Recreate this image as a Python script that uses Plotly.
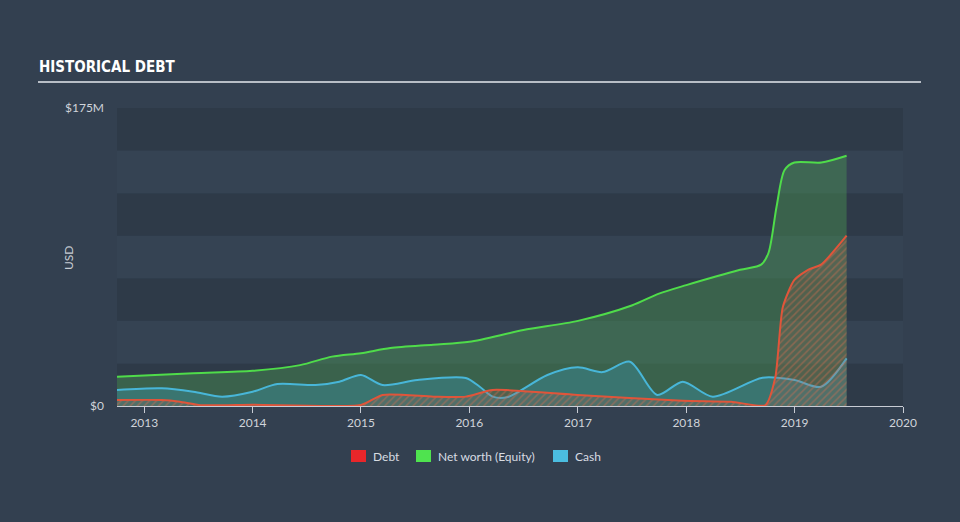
import plotly.graph_objects as go

# ---- data (USD millions) ----
cash_dates = ["2012-10-01", "2013-03-01", "2013-06-15", "2013-09-20", "2014-01-01", "2014-03-25",
              "2014-08-01", "2014-10-20", "2015-01-01", "2015-03-15", "2015-07-10", "2015-12-20",
              "2016-02-05", "2016-03-20", "2016-05-10", "2016-09-20", "2016-12-31", "2017-03-25",
              "2017-06-25", "2017-09-25", "2017-12-20", "2018-03-31", "2018-09-15", "2018-12-31",
              "2019-03-31", "2019-06-25"]
cash_vals = [9.4, 10.4, 8.4, 5.5, 8.4, 12.9, 12.3, 14.3, 18.2, 12.3, 15.3, 16.4, 11.3, 5.5, 5.3,
             18.2, 22.7, 19.9, 26.0, 6.5, 14.3, 5.5, 16.6, 15.3, 11.3, 28.0]

debt_dates = ["2012-10-01", "2013-03-01", "2013-05-01", "2013-07-10", "2014-01-01", "2015-01-01",
              "2015-03-15", "2015-09-01", "2015-12-20", "2016-03-20", "2016-12-31", "2017-12-20",
              "2018-06-01", "2018-09-25", "2018-10-28", "2018-11-22", "2018-12-31", "2019-02-15",
              "2019-03-31", "2019-06-25"]
debt_vals = [3.5, 3.5, 2.5, 0.5, 0.7, 0.6, 6.5, 5.5, 5.5, 9.4, 6.5, 3.1, 2.5, 0.6, 17.0, 58.0,
             74.0, 80.0, 83.0, 100.0]

equity_dates = ["2012-10-01", "2013-06-15", "2014-01-01", "2014-06-10", "2014-09-25", "2015-01-01",
                "2015-04-10", "2015-09-01", "2016-01-01", "2016-07-01", "2017-01-01", "2017-07-01",
                "2017-10-01", "2018-01-01", "2018-07-01", "2018-09-10", "2018-10-05", "2018-11-01",
                "2018-11-28", "2018-12-31", "2019-04-01", "2019-06-25"]
equity_vals = [17.2, 19.3, 20.7, 24.0, 29.0, 31.0, 34.0, 36.0, 37.7, 44.6, 50.0, 59.0, 66.0, 71.0,
               80.0, 83.0, 90.0, 117.0, 138.6, 143.0, 143.0, 147.0]

x_ticks = ["2013-01-01", "2014-01-01", "2015-01-01", "2016-01-01", "2017-01-01", "2018-01-01",
           "2019-01-01", "2020-01-01"]
x_tick_labels = ["2013", "2014", "2015", "2016", "2017", "2018", "2019", "2020"]
y_ticks = [0, 175]
y_tick_labels = ["$0", "$175M"]
band_edges = [0, 25, 50, 75, 100, 125, 150, 175]
legend_names = ["Debt", "Net worth (Equity)", "Cash"]
legend_colors = ["#e8262a", "#4fe34f", "#4bbde0"]

BG = "#334050"
FONT = "Lato, 'Open Sans', sans-serif"

# layout geometry (pixels)
L, R, T, B, W, H = 117, 57, 108, 116, 960, 522
PW, PH = W - L - R, H - T - B


def px(xp):
    return (xp - L) / PW


def py(yp):
    return (H - B - yp) / PH


fig = go.Figure()

fig.add_trace(go.Scatter(x=equity_dates, y=equity_vals, mode="lines",
                         line=dict(color="#4fdc4a", width=2, shape="spline", smoothing=0.8),
                         fill="tozeroy", fillcolor="rgba(80,170,83,0.36)", showlegend=False, hoverinfo="skip"))
fig.add_trace(go.Scatter(x=cash_dates, y=cash_vals, mode="lines",
                         line=dict(color="#48b6d8", width=2, shape="spline", smoothing=0.8),
                         fill="tozeroy", fillcolor="rgba(60,160,190,0.32)", showlegend=False, hoverinfo="skip"))
fig.add_trace(go.Scatter(x=debt_dates, y=debt_vals, mode="lines",
                         line=dict(color="#e0553a", width=2, shape="spline", smoothing=0.6),
                         fill="tozeroy", fillcolor="rgba(0,0,0,0)",
                         fillpattern=dict(shape="/", fgcolor="rgba(225,110,80,0.75)",
                                          bgcolor="rgba(150,90,80,0.25)", size=5, solidity=0.3),
                         showlegend=False, hoverinfo="skip"))

shapes = []
for i in range(len(band_edges) - 1):
    shapes.append(dict(type="rect", xref="paper", yref="y", x0=0, x1=1,
                       y0=band_edges[i], y1=band_edges[i + 1], layer="below", line=dict(width=0),
                       fillcolor="#2e3a48" if i % 2 == 0 else "#354353"))
# title underline
shapes.append(dict(type="line", xref="paper", yref="paper", x0=px(38), x1=px(921), y0=py(82), y1=py(82),
                   line=dict(color="#b8bec6", width=2)))

annotations = [
    dict(text="<b>HISTORICAL DEBT</b>", xref="paper", yref="paper", x=px(37), y=py(67),
         xanchor="left", yanchor="middle", showarrow=False,
         font=dict(family="'DejaVu Sans Condensed', sans-serif", size=15, color="#ffffff")),
    dict(text="USD", xref="paper", yref="paper", x=px(68), y=py(258), textangle=-90,
         xanchor="center", yanchor="middle", showarrow=False,
         font=dict(color="#c8ccd4", size=12, family=FONT)),
]

# custom legend
sw_x = [351, 416, 553]
for name, col, x0 in zip(legend_names, legend_colors, sw_x):
    shapes.append(dict(type="rect", xref="paper", yref="paper", x0=px(x0), x1=px(x0 + 15),
                       y0=py(462), y1=py(450), line=dict(width=0), fillcolor=col))
    annotations.append(dict(text=name, xref="paper", yref="paper", x=px(x0 + 20), y=py(456),
                            xanchor="left", yanchor="middle", showarrow=False,
                            font=dict(color="#d8dce2", size=12, family=FONT)))

fig.update_layout(
    width=W, height=H,
    paper_bgcolor=BG, plot_bgcolor=BG,
    margin=dict(l=L, r=R, t=T, b=B),
    shapes=shapes,
    annotations=annotations,
    showlegend=False,
    xaxis=dict(range=["2012-10-01", "2020-01-01"], tickvals=x_ticks, ticktext=x_tick_labels,
               showgrid=False, zeroline=False, showline=True, linecolor="#c8ccd4", linewidth=1,
               ticks="outside", ticklen=6, tickcolor="#c8ccd4",
               tickfont=dict(color="#d0d4da", size=12, family=FONT)),
    yaxis=dict(range=[0, 175], tickvals=y_ticks, ticktext=y_tick_labels, showgrid=False,
               zeroline=False, showline=False, ticks="", ticklabelstandoff=12,
               tickfont=dict(color="#d0d4da", size=12, family=FONT)),
)

fig.write_html("out.html")
